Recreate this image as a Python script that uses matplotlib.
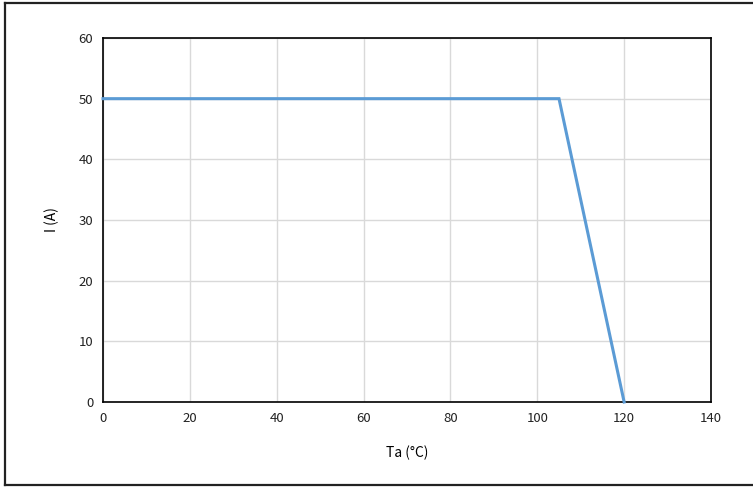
import matplotlib
matplotlib.use("Agg")
import matplotlib.pyplot as plt
from matplotlib.lines import Line2D

plt.rcParams['font.family'] = ['Noto Sans CJK SC', 'DejaVu Sans']

# derating curve
ta = [0, 105, 120]
current = [50, 50, 0]
xticks = [0, 20, 40, 60, 80, 100, 120, 140]
yticks = [0, 10, 20, 30, 40, 50, 60]

fig = plt.figure(figsize=(7.53, 4.87), dpi=100)
ax = fig.add_axes([103/753, 1-402/487, (711-103)/753, (402-38)/487])

ax.plot(ta, current, color='#5B9BD5', lw=2.2, solid_joinstyle='miter', clip_on=False, zorder=3)

ax.set_xlim(0, 140)
ax.set_ylim(0, 60)
ax.set_xticks(xticks)
ax.set_yticks(yticks)
ax.grid(True, color='#D9D9D9', lw=1)
ax.set_axisbelow(True)
ax.tick_params(length=0, labelsize=9.5, colors='#222222', pad=7)
for s in ax.spines.values():
    s.set_color('black')
    s.set_linewidth(1.2)

ax.set_xlabel('Ta (°C)', fontsize=10, labelpad=15)
ax.set_ylabel('I (A)', fontsize=10, labelpad=14)

# outer frame (left, top, bottom only)
W, H = 753, 487
fx = lambda px: px / W
fy = lambda py: 1 - py / H
for xs, ys in [([5, 5], [3, 485]), ([5, 753], [3, 3]), ([5, 753], [485, 485])]:
    fig.add_artist(Line2D([fx(v) for v in xs], [fy(v) for v in ys], color='#222222', lw=1.6))

fig.savefig('out.png', dpi=100)
